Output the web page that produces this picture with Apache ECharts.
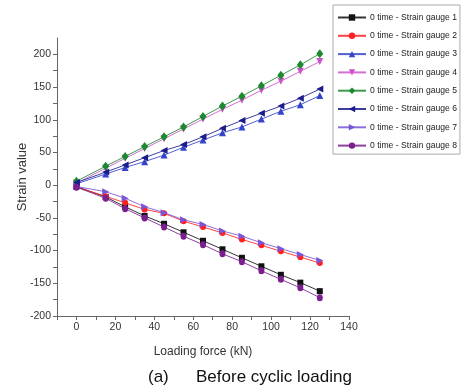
<!DOCTYPE html>
<html>
<head>
<meta charset="utf-8">
<script src="https://cdn.jsdelivr.net/npm/echarts@6/dist/echarts.min.js"></script>
<style>
  html, body { margin: 0; padding: 0; background: #fff; }
  #chart { width: 461px; height: 392px; }
</style>
</head>
<body>
<div id="chart"></div>
<script>
// Loading steps (kN)
const loads = [0, 15, 25, 35, 45, 55, 65, 75, 85, 95, 105, 115, 125];

// Strain readings per gauge, before cyclic loading
const gauge1 = [-2, -18, -33, -47, -59, -72, -85, -98, -111, -124, -137, -149, -162];
const gauge2 = [-3, -17, -27, -37, -43, -55, -64, -73, -83, -92, -101, -110, -119];
const gauge3 = [2, 17, 27, 36, 46, 58, 69, 80, 89, 101, 113, 123, 137];
const gauge4 = [3, 26, 41, 56, 71, 86, 101, 116, 130, 145, 159, 174, 189];
const gauge5 = [6, 29, 44, 59, 74, 89, 105, 121, 136, 152, 168, 184, 201];
const gauge6 = [4, 20, 31, 42, 53, 62, 74, 87, 99, 110, 121, 133, 147];
const gauge7 = [-2, -10, -20, -33, -42, -53, -60, -70, -78, -88, -97, -106, -115];
const gauge8 = [-3, -20, -36, -50, -64, -78, -91, -105, -117, -131, -144, -157, -172];

const seriesNames = [
  '0 time - Strain gauge 1', '0 time - Strain gauge 2', '0 time - Strain gauge 3',
  '0 time - Strain gauge 4', '0 time - Strain gauge 5', '0 time - Strain gauge 6',
  '0 time - Strain gauge 7', '0 time - Strain gauge 8'
];
const seriesValues = [gauge1, gauge2, gauge3, gauge4, gauge5, gauge6, gauge7, gauge8];

// Axis tick labels
const xTickLabels = [0, 20, 40, 60, 80, 100, 120, 140];
const yTickLabels = [-200, -150, -100, -50, 0, 50, 100, 150, 200];

// Per-series marker styling
const colors = ['#111111', '#ff2020', '#3344cc', '#cc55cc', '#1b8a2e', '#1c1c8c', '#7a55d6', '#7b1f8f'];
const symbols = ['rect', 'circle', 'triangle', 'triangle', 'diamond', 'triangle', 'triangle', 'circle'];
const rotations = [0, 0, 0, 180, 0, 90, -90, 0];
const sizes = [6, 6, 7, 7, [7, 9], 7, 7, [6, 7]];

const font = '"Liberation Sans", Arial, sans-serif';

const series = seriesNames.map((name, i) => ({
  name: name,
  type: 'line',
  data: loads.map((x, j) => [x, seriesValues[i][j]]),
  symbol: symbols[i],
  symbolRotate: rotations[i],
  symbolSize: sizes[i],
  showAllSymbol: true,
  color: colors[i],
  lineStyle: { width: 1, opacity: 0.85 },
  itemStyle: { color: colors[i] },
  emphasis: { disabled: true },
  z: 2 + i
}));

const chart = echarts.init(document.getElementById('chart'), null, { renderer: 'canvas' });
chart.setOption({
  animation: false,
  backgroundColor: '#ffffff',
  grid: { left: 57, right: 112, top: 38, bottom: 76, containLabel: false },
  legend: {
    orient: 'vertical',
    left: 333,
    top: 5,
    padding: [8, 3, 4, 4],
    itemGap: 9.3,
    itemWidth: 28,
    itemHeight: 8,
    borderColor: '#aaaaaa',
    borderWidth: 1,
    backgroundColor: '#ffffff',
    textStyle: { fontFamily: font, fontSize: 8.6, color: '#222', padding: [0, 0, 0, -1] },
    data: seriesNames
  },
  xAxis: {
    type: 'value',
    min: -10,
    max: 140,
    interval: 10,
    name: 'Loading force (kN)',
    nameLocation: 'middle',
    nameGap: 30,
    nameMoveOverlap: false,
    nameTextStyle: { fontFamily: font, fontSize: 12, color: '#333' },
    splitLine: { show: false },
    axisLine: { onZero: false, lineStyle: { color: '#666', width: 1 } },
    axisTick: { show: true, inside: false, length: 4, lineStyle: { color: '#666' } },
    axisLabel: {
      fontFamily: font, fontSize: 10.5, color: '#333', margin: 6,
      showMinLabel: true, showMaxLabel: true,
      formatter: v => (xTickLabels.indexOf(v) >= 0 ? String(v) : '')
    }
  },
  yAxis: {
    type: 'value',
    min: -200,
    max: 225,
    interval: 25,
    name: 'Strain value',
    nameLocation: 'middle',
    nameGap: 28,
    nameMoveOverlap: false,
    nameTextStyle: { fontFamily: font, fontSize: 13, color: '#333' },
    splitLine: { show: false },
    axisLine: { show: true, onZero: false, lineStyle: { color: '#666', width: 1 } },
    axisTick: { show: true, inside: false, length: 4, lineStyle: { color: '#666' } },
    axisLabel: {
      fontFamily: font, fontSize: 10.5, color: '#333', margin: 6,
      showMaxLabel: false,
      formatter: v => (yTickLabels.indexOf(v) >= 0 ? String(v) : '')
    }
  },
  graphic: [
    {
      type: 'text', left: 148, top: 369,
      style: { text: '(a)', font: '17px ' + font, fill: '#111' }
    },
    {
      type: 'text', left: 196, top: 369,
      style: { text: 'Before cyclic loading', font: '17px ' + font, fill: '#111' }
    }
  ],
  series: series
});
</script>
</body>
</html>
